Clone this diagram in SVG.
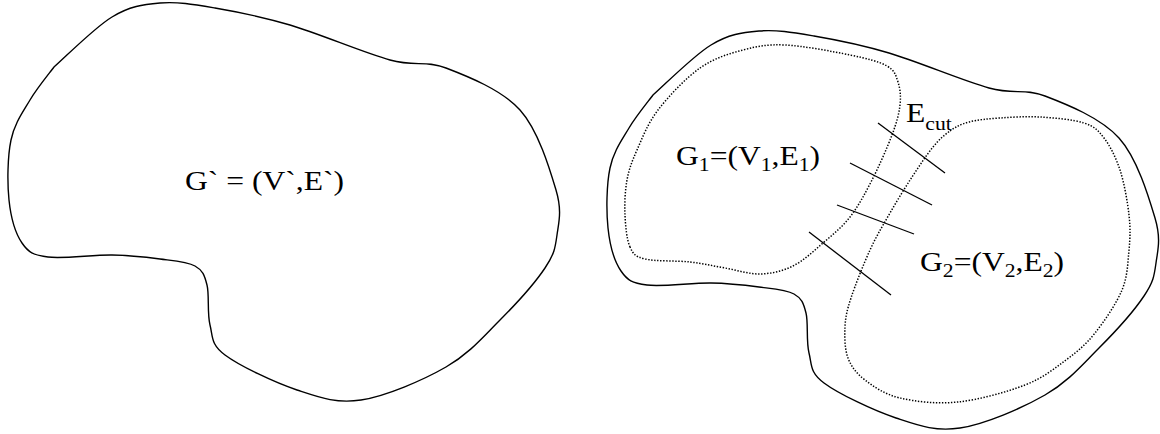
<svg xmlns="http://www.w3.org/2000/svg" width="1160" height="434" viewBox="0 0 1160 434">
<style>
.outline{fill:none;stroke:#000;stroke-width:1.4;stroke-linejoin:round}
.dotted{fill:none;stroke:#000;stroke-width:1.5;stroke-dasharray:1.4 1.6}
.edge{stroke:#000;stroke-width:1.3;fill:none}
.lbl{font-family:"Liberation Serif","Times New Roman",serif;font-size:27px;fill:#000}
.sub{font-size:18.5px}
</style>
<defs>
<path id="shape" d="M54,67 C63.7,58.7 94.3,27.7 112,17 C129.7,6.3 142.8,4.5 160,3 C177.2,1.5 193.3,4.3 215,8 C236.7,11.7 260.8,16.3 290,25 C319.2,33.7 364,52.8 390,60 C416,67.2 424.3,59.7 446,68 C467.7,76.3 501.7,89.7 520,110 C538.3,130.3 549.8,169.2 556,190 C562.2,210.8 558.8,222 557,235 C555.2,248 554.5,253.8 545,268 C535.5,282.2 516.5,303.5 500,320 C483.5,336.5 469.2,353.7 446,367 C422.8,380.3 385.8,396.2 361,400 C336.2,403.8 319.7,397.5 297,390 C274.3,382.5 239.5,365.8 225,355 C210.5,344.2 213,336.7 210,325 C207,313.3 209.5,294.8 207,285 C204.5,275.2 202.8,270.3 195,266 C187.2,261.7 173.8,260.8 160,259 C146.2,257.2 130.7,255.3 112,255 C93.3,254.7 63,259 48,257 C33,255 28.5,252.5 22,243 C15.5,233.5 10.8,217.2 9,200 C7.2,182.8 7.5,156.7 11,140 C14.5,123.3 22.8,112.2 30,100 C37.2,87.8 50,72.5 54,67 Z"/>
</defs>
<g id="graph-left">
<use href="#shape" class="outline"/>
<text class="lbl" transform="translate(185,190) scale(1.17,1)">G` = (V`,E`)</text>
</g>
<g id="graph-right">
<use href="#shape" class="outline" transform="translate(599,28)"/>
</g>
<g id="subgraph-g1">
<path class="dotted" d="M630,247 C626.7,239.7 625.5,226.2 625,215 C624.5,203.8 625,190.8 627,180 C629,169.2 631.8,161.7 637,150 C642.2,138.3 647.5,123.7 658,110 C668.5,96.3 685.8,78 700,68 C714.2,58 728.8,53.8 743,50 C757.2,46.2 767.2,44.2 785,45 C802.8,45.8 833,51.5 850,55 C867,58.5 879,61.5 887,66 C895,70.5 895.8,75.5 898,82 C900.2,88.5 901,96.2 900,105 C899,113.8 896.7,122.5 892,135 C887.3,147.5 879,166.3 872,180 C865,193.7 858.2,206.5 850,217 C841.8,227.5 832.5,234.8 823,243 C813.5,251.2 803.5,260.8 793,266 C782.5,271.2 771.3,273.7 760,274 C748.7,274.3 736.7,270 725,268 C713.3,266 703.3,263.5 690,262 C676.7,260.5 655,261.5 645,259 C635,256.5 633.3,254.3 630,247 Z"/>
<text class="lbl" transform="translate(676,165) scale(1.17,1)">G<tspan class="sub" dy="6">1</tspan><tspan dy="-6">=(V</tspan><tspan class="sub" dy="6">1</tspan><tspan dy="-6">,E</tspan><tspan class="sub" dy="6">1</tspan><tspan dy="-6">)</tspan></text>
</g>
<g id="subgraph-g2">
<path class="dotted" d="M950,131 C956,126.8 960.7,124.2 969,122 C977.3,119.8 988.2,118.8 1000,118 C1011.8,117.2 1026,116.2 1040,117 C1054,117.8 1073.3,119.5 1084,123 C1094.7,126.5 1098,130.2 1104,138 C1110,145.8 1115.8,157.2 1120,170 C1124.2,182.8 1127.5,201.7 1129,215 C1130.5,228.3 1130.2,237.5 1129,250 C1127.8,262.5 1127.7,276.2 1122,290 C1116.3,303.8 1104.3,321.3 1095,333 C1085.7,344.7 1077.7,351.3 1066,360 C1054.3,368.7 1043,378 1025,385 C1007,392 978.8,399.8 958,402 C937.2,404.2 915.5,401.7 900,398 C884.5,394.3 873.7,386.7 865,380 C856.3,373.3 851.3,366.8 848,358 C844.7,349.2 844.5,337 845,327 C845.5,317 846.8,310.8 851,298 C855.2,285.2 863.5,264.2 870,250 C876.5,235.8 883,225.2 890,213 C897,200.8 904.8,188 912,177 C919.2,166 926.7,154.7 933,147 C939.3,139.3 944,135.2 950,131 Z"/>
<text class="lbl" transform="translate(920,271) scale(1.17,1)">G<tspan class="sub" dy="6">2</tspan><tspan dy="-6">=(V</tspan><tspan class="sub" dy="6">2</tspan><tspan dy="-6">,E</tspan><tspan class="sub" dy="6">2</tspan><tspan dy="-6">)</tspan></text>
</g>
<g id="cut-edges">
<line class="edge" x1="878" y1="123" x2="945" y2="173"/>
<line class="edge" x1="850" y1="163" x2="932" y2="205"/>
<line class="edge" x1="837" y1="205" x2="914" y2="234"/>
<line class="edge" x1="809" y1="232" x2="891" y2="295"/>
<text class="lbl" transform="translate(906,122) scale(1.17,1)">E<tspan class="sub" dy="8">cut</tspan></text>
</g>
</svg>
